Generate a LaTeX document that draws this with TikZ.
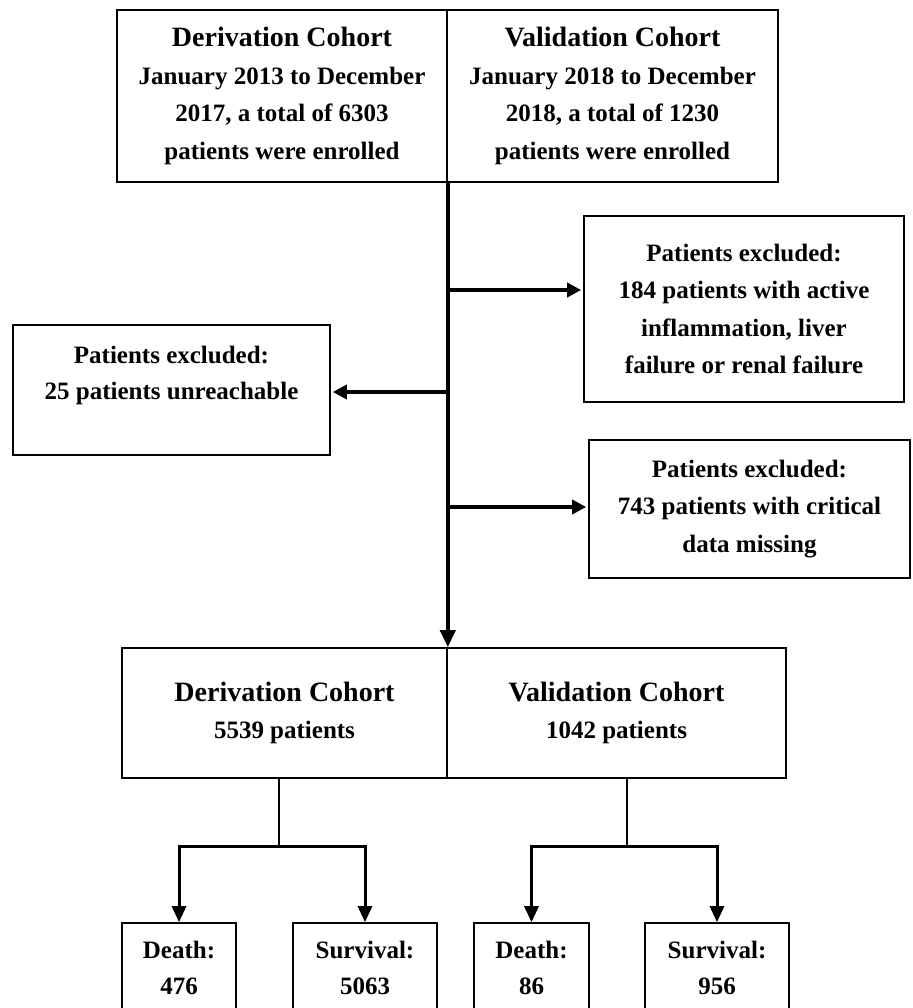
\documentclass[tikz,border=0pt]{standalone}
\usepackage{fontspec}
\setmainfont{Liberation Serif}
\usetikzlibrary{arrows.meta,calc}
\newcommand{\cohorttitle}[1]{{\fontsize{28}{37.5}\selectfont #1}}
\tikzset{
  box/.style={draw, line width=1.6pt, inner sep=0pt, align=center,
    font=\bfseries\fontsize{25}{37.5}\selectfont},
  txt/.style={inner sep=0pt, align=center, font=\bfseries\fontsize{25}{36}\selectfont},
  spine/.style={line width=4pt, -{Triangle[width=15pt,length=17pt]}},
  arr/.style={line width=4pt, -{Triangle[width=14pt,length=14pt]}, shorten >=2pt},
  thinl/.style={line width=1.5pt},
  brk/.style={line width=3pt, -{Triangle[width=14pt,length=16pt]}}
}
\begin{document}
\begin{tikzpicture}[x=1pt,y=-1pt]
\useasboundingbox (0,0) rectangle (912,1008);
% top boxes
\node[box, minimum width=330pt, minimum height=172pt] (tl) at (282,96)
  {\cohorttitle{Derivation Cohort}\\January 2013 to December\\2017, a total of 6303\\patients were enrolled};
\node[box, minimum width=331pt, minimum height=172pt] (tr) at (612.5,96)
  {\cohorttitle{Validation Cohort}\\January 2018 to December\\2018, a total of 1230\\patients were enrolled};
% exclusion boxes
\node[box, minimum width=320pt, minimum height=186pt] (r1) at (744,309)
  {Patients excluded:\\184 patients with active\\inflammation, liver\\failure or renal failure};
\node[box, minimum width=317pt, minimum height=130pt] (lx) at (171.5,390) {};
\node[txt] (lxt) at (171.5,375) {Patients excluded:\\25 patients unreachable};
\node[box, minimum width=321pt, minimum height=138pt] (r2) at (749.5,509)
  {Patients excluded:\\743 patients with critical\\data missing};
% lower boxes
\node[box, minimum width=325pt, minimum height=130pt] (ll) at (284.5,713)
  {\cohorttitle{Derivation Cohort}\\5539 patients};
\node[box, minimum width=339pt, minimum height=130pt] (lr) at (616.5,713)
  {\cohorttitle{Validation Cohort}\\1042 patients};
% outcome boxes
\node[box, font=\bfseries\fontsize{25}{36}\selectfont, minimum width=114pt, minimum height=89pt] (d1) at (179,967.5) {Death:\\476};
\node[box, font=\bfseries\fontsize{25}{36}\selectfont, minimum width=144pt, minimum height=89pt] (v1) at (365,967.5) {Survival:\\5063};
\node[box, font=\bfseries\fontsize{25}{36}\selectfont, minimum width=115pt, minimum height=89pt] (d2) at (531.5,967.5) {Death:\\86};
\node[box, font=\bfseries\fontsize{25}{36}\selectfont, minimum width=144pt, minimum height=89pt] (v2) at (717,967.5) {Survival:\\956};
% spine
\draw[spine] (tl.south east) -- (ll.north east);
\coordinate (s1) at (447,290);
\coordinate (s2) at (447,392);
\coordinate (s3) at (447,507);
\draw[arr] (s1) -- (s1 -| r1.west);
\draw[arr] (s2) -- (s2 -| lx.east);
\draw[arr] (s3) -- (s3 -| r2.west);
% splits
\coordinate (j1) at (279,846);
\coordinate (j2) at (627,846);
\draw[thinl] (j1 |- ll.south) -- (j1);
\draw[thinl] (j2 |- lr.south) -- (j2);
\draw[brk] (j1) -| (d1.north);
\draw[brk] (j1) -| (v1.north);
\draw[brk] (j2) -| (d2.north);
\draw[brk] (j2) -| (v2.north);
\end{tikzpicture}
\end{document}
